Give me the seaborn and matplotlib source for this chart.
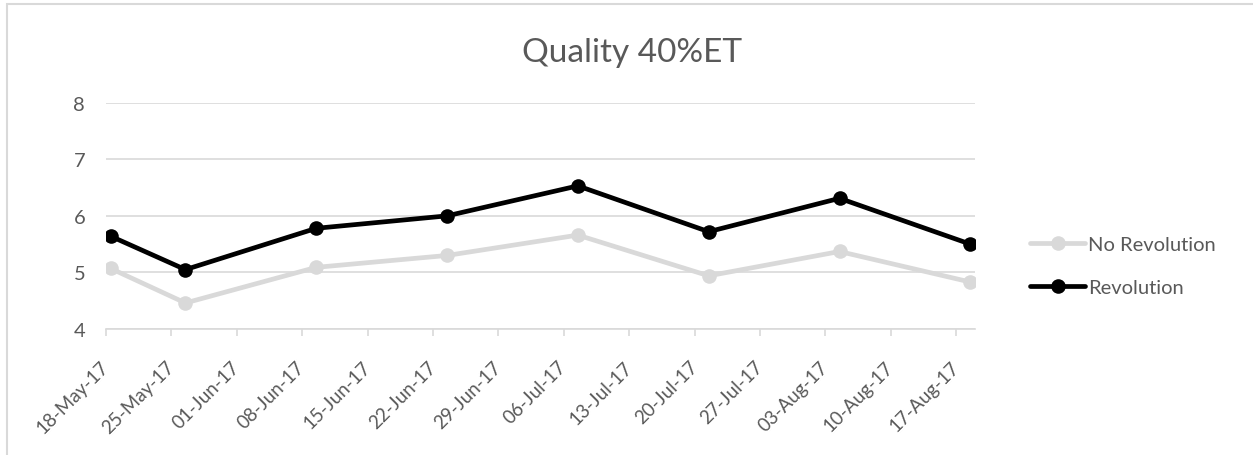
import matplotlib
matplotlib.use("Agg")
import matplotlib.pyplot as plt
import matplotlib.dates as mdates
from matplotlib.patches import Rectangle
import seaborn as sns
import pandas as pd

# ---- data ----
dates = ["2017-05-18", "2017-05-26", "2017-06-09", "2017-06-23",
         "2017-07-07", "2017-07-21", "2017-08-04", "2017-08-18"]
no_revolution = [5.07, 4.46, 5.09, 5.30, 5.66, 4.94, 5.37, 4.83]
revolution = [5.64, 5.05, 5.78, 6.00, 6.53, 5.72, 6.31, 5.50]
series_names = ["No Revolution", "Revolution"]
title = "Quality 40%ET"
y_ticks = [4, 5, 6, 7, 8]

sns.set_theme(style="white")
plt.rcParams["font.family"] = ["Lato", "DejaVu Sans"]

TXT = "#595959"
GRID = "#d9d9d9"

W, H = 1253, 456
fig = plt.figure(figsize=(W / 100, H / 100), dpi=100)
ax = fig.add_axes([106 / W, 1 - 330 / H, (975 - 106) / W, (330 - 103.7) / H])

# Excel date axis: points sit in the middle of each day slot
x = pd.to_datetime(dates) + pd.Timedelta(hours=12)
df = pd.DataFrame({"date": x, series_names[0]: no_revolution, series_names[1]: revolution})

colors = {"No Revolution": "#d9d9d9", "Revolution": "#000000"}
for name in series_names:
    sns.lineplot(data=df, x="date", y=name, ax=ax, color=colors[name], linewidth=3.4,
                 marker="o", markersize=10.5, markeredgewidth=0, label=name)

ax.set_xlim(pd.Timestamp("2017-05-18"), pd.Timestamp("2017-08-19"))
ax.set_ylim(4, 8)
ax.set_yticks(y_ticks)
ax.xaxis.set_major_locator(mdates.WeekdayLocator(byweekday=mdates.TH))
ax.xaxis.set_major_formatter(mdates.DateFormatter("%d-%b-%y"))

ax.grid(axis="y", color=GRID, linewidth=1.2)
ax.grid(axis="x", visible=False)
ax.set_axisbelow(True)
for s in ["top", "right", "left"]:
    ax.spines[s].set_visible(False)
ax.spines["bottom"].set_color(GRID)
ax.spines["bottom"].set_linewidth(1.2)
ax.set_xlabel("")
ax.set_ylabel("")

ax.tick_params(axis="y", length=0, pad=15, labelsize=14.5, labelcolor=TXT)
ax.tick_params(axis="x", direction="out", length=5, width=1.2, color=GRID,
               pad=20, labelsize=13.5, labelcolor=TXT, bottom=True)
for lbl in ax.get_xticklabels():
    lbl.set_rotation(45)
    lbl.set_ha("right")
    lbl.set_va("center")
    lbl.set_rotation_mode("anchor")

leg = ax.legend(loc="center left", bbox_to_anchor=(1030 / W, 1 - 267 / H),
                bbox_transform=fig.transFigure, frameon=False, fontsize=14.5,
                handlelength=2.75, handletextpad=0.15, labelspacing=1.25,
                borderaxespad=0, borderpad=0)
for t in leg.get_texts():
    t.set_color(TXT)

fig.text(632 / W, 1 - 62 / H, title, ha="center", va="baseline", fontsize=24, color=TXT)

# chart-area border (partially visible)
fig.patches.append(Rectangle((7 / W, -0.05), 1.2, 1 - 5 / H + 0.05, transform=fig.transFigure,
                             fill=False, edgecolor=GRID, linewidth=1.5))

fig.savefig("out.png", dpi=100, facecolor="white")
